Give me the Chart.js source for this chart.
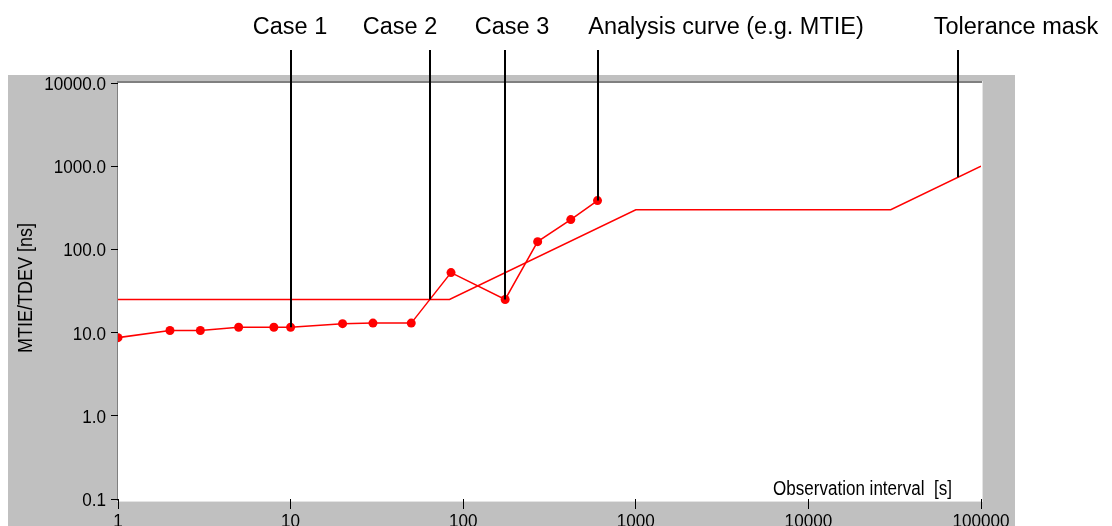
<!DOCTYPE html>
<html>
<head>
<meta charset="utf-8">
<script src="https://cdn.jsdelivr.net/npm/chart.js@4.4.1/dist/chart.umd.min.js"></script>
<style>
  html, body { margin: 0; padding: 0; background: #ffffff; }
  #wrap { width: 1112px; height: 526px; position: relative; }
</style>
</head>
<body>
<div id="wrap"><canvas id="c" width="1112" height="526"></canvas></div>
<script>
// ---- data ----
const xValues = [1, 2, 3, 5, 8, 10, 20, 30, 50, 85, 175, 270, 420, 600];
const analysisValues = [8.7, 10.6, 10.6, 11.6, 11.6, 11.6, 12.8, 13, 13, 52.6, 25, 124, 228, 386];
const maskX = [1, 83.3, 1000, 30000, 100000];
const maskValues = [25, 25, 300, 300, 1000];
const xTicks = [1, 10, 100, 1000, 10000, 100000];
const xTickLabels = ['1', '10', '100', '1000', '10000', '100000'];
const yTicks = [0.1, 1, 10, 100, 1000, 10000];
const yTickLabels = ['0.1', '1.0', '10.0', '100.0', '1000.0', '10000.0'];
const annotationLabels = ['Case 1', 'Case 2', 'Case 3', 'Analysis curve (e.g. MTIE)', 'Tolerance mask'];
const annotationX = [10, 64, 175, 600, 73600];
const annotationSeries = ['analysis', 'analysis', 'analysis', 'analysis', 'mask'];
const yTitle = 'MTIE/TDEV [ns]';
const xTitle = 'Observation interval  [s]';

// ---- styles / layout ----
const RED = '#ff0000';
const PANEL = { left: 8, top: 75, right: 1015, bottom: 526, color: '#c0c0c0' };
const SANS = "'Liberation Sans', Arial, Helvetica, sans-serif";
const labelCenters = [290, 400, 512, 726, 1016];
const labelBaseline = 34;
const lineTop = 50;
const TICK_FONT = '19px ' + SANS;
const TICK_SX = 0.9;

function interpLog(xs, ys, x) {
  const lx = Math.log10(x);
  for (let i = 0; i < xs.length - 1; i++) {
    const a = Math.log10(xs[i]), b = Math.log10(xs[i + 1]);
    if (lx >= a && lx <= b) {
      const t = (lx - a) / (b - a);
      return Math.pow(10, Math.log10(ys[i]) + t * (Math.log10(ys[i + 1]) - Math.log10(ys[i])));
    }
  }
  return ys[ys.length - 1];
}

function narrowText(ctx, text, x, y, align, sx, rot) {
  ctx.save();
  ctx.translate(x, y);
  if (rot) ctx.rotate(rot);
  ctx.scale(sx, 1);
  ctx.textAlign = align;
  ctx.textBaseline = 'alphabetic';
  ctx.fillText(text, 0, 0);
  ctx.restore();
}

const framePlugin = {
  id: 'frame',
  beforeDraw(chart) {
    const ctx = chart.ctx, a = chart.chartArea;
    ctx.save();
    ctx.fillStyle = '#ffffff';
    ctx.fillRect(0, 0, chart.width, chart.height);
    ctx.fillStyle = PANEL.color;
    ctx.fillRect(PANEL.left, PANEL.top, PANEL.right - PANEL.left, PANEL.bottom - PANEL.top);
    ctx.fillStyle = '#ffffff';
    ctx.fillRect(a.left - 1, a.top - 1, a.right - a.left + 2, a.bottom - a.top + 3);
    // borders
    ctx.fillStyle = '#808080';
    ctx.fillRect(a.left - 1, a.top - 2, a.right - a.left + 2, 2);
    ctx.fillRect(a.left - 1, a.top - 2, 1, a.bottom - a.top + 4);
    ctx.fillStyle = '#e4e4e4';
    ctx.fillRect(a.right + 1, a.top - 2, 1, a.bottom - a.top + 4);
    ctx.fillRect(a.left - 1, a.bottom + 2, a.right - a.left + 3, 1);
    ctx.restore();
  },
  afterDraw(chart) {
    const ctx = chart.ctx, xs = chart.scales.x, ys = chart.scales.y, a = chart.chartArea;
    ctx.save();
    ctx.fillStyle = '#000000';
    ctx.font = TICK_FONT;
    yTicks.forEach((v, i) => {
      narrowText(ctx, yTickLabels[i], 106, ys.getPixelForValue(v) + 7, 'right', TICK_SX);
    });
    xTicks.forEach((v, i) => {
      narrowText(ctx, xTickLabels[i], xs.getPixelForValue(v), a.bottom + 28, 'center', TICK_SX);
    });
    ctx.font = '20px ' + SANS;
    narrowText(ctx, xTitle, 773, 495, 'left', 0.852);
    narrowText(ctx, yTitle, 32, 288, 'center', 0.9, -Math.PI / 2);
    ctx.restore();
  },
  afterDatasetsDraw(chart) {
    const ctx = chart.ctx, xs = chart.scales.x, ys = chart.scales.y;
    ctx.save();
    ctx.strokeStyle = '#000000';
    ctx.lineWidth = 2;
    ctx.fillStyle = '#000000';
    ctx.font = '23.5px ' + SANS;
    ctx.textAlign = 'center';
    ctx.textBaseline = 'alphabetic';
    annotationLabels.forEach((lab, i) => {
      const xv = annotationX[i];
      const yv = annotationSeries[i] === 'mask' ? interpLog(maskX, maskValues, xv) : interpLog(xValues, analysisValues, xv);
      const px = Math.round(xs.getPixelForValue(xv));
      const py = ys.getPixelForValue(yv);
      ctx.beginPath();
      ctx.moveTo(px, lineTop);
      ctx.lineTo(px, py);
      ctx.stroke();
      ctx.fillText(lab, labelCenters[i], labelBaseline);
    });
    ctx.restore();
  }
};

new Chart(document.getElementById('c'), {
  type: 'line',
  data: {
    datasets: [
      {
        label: 'Tolerance mask',
        data: maskX.map((x, i) => ({ x: x, y: maskValues[i] })),
        borderColor: RED, borderWidth: 1.5, pointRadius: 0, tension: 0, clip: 0
      },
      {
        label: 'Analysis curve',
        data: xValues.map((x, i) => ({ x: x, y: analysisValues[i] })),
        borderColor: RED, borderWidth: 1.5, pointRadius: 4.5, pointBackgroundColor: RED,
        pointBorderWidth: 0, pointBorderColor: RED, tension: 0, clip: 0
      }
    ]
  },
  options: {
    responsive: false,
    animation: false,
    devicePixelRatio: 1,
    layout: { padding: { left: 0, top: 83, right: 131, bottom: 0 } },
    plugins: { legend: { display: false }, tooltip: { enabled: false }, title: { display: false } },
    scales: {
      x: {
        type: 'logarithmic', min: 1, max: 100000,
        afterBuildTicks: s => { s.ticks = xTicks.map(v => ({ value: v })); },
        afterFit: s => { s.height = 27; },
        ticks: { display: false, autoSkip: false, maxRotation: 0 },
        grid: { drawOnChartArea: false, drawTicks: true, tickLength: 10, color: '#000', lineWidth: 1 },
        border: { display: false }
      },
      y: {
        type: 'logarithmic', min: 0.1, max: 10000,
        afterBuildTicks: s => { s.ticks = yTicks.map(v => ({ value: v })); },
        afterFit: s => { s.width = 118; },
        ticks: { display: false, autoSkip: false },
        grid: { drawOnChartArea: false, drawTicks: true, tickLength: 7, color: '#000', lineWidth: 1 },
        border: { display: false }
      }
    }
  },
  plugins: [framePlugin]
});
</script>
</body>
</html>
